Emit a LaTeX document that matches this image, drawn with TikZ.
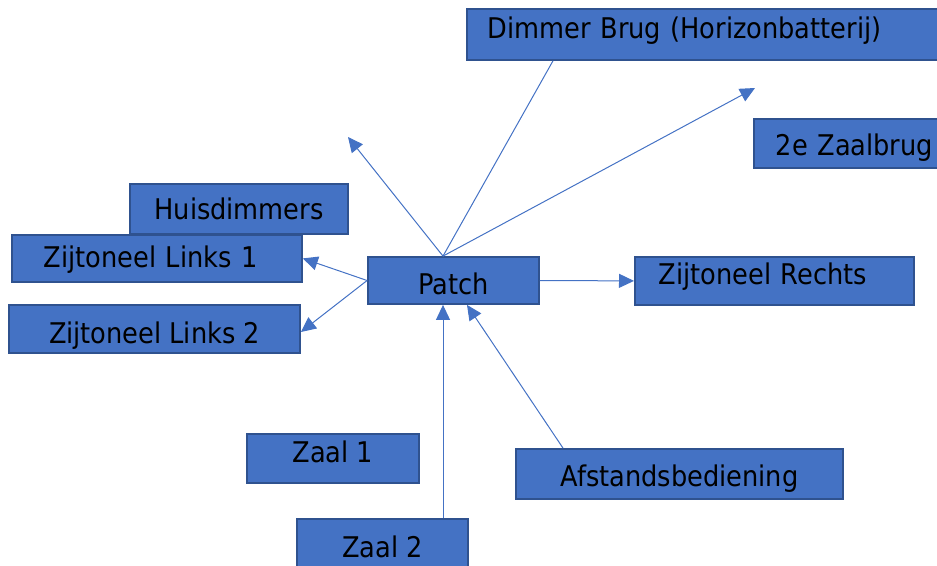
\documentclass[tikz,border=0pt]{standalone}
\usepackage{fontspec}
\setmainfont{DejaVu Sans Condensed}
\usetikzlibrary{arrows.meta}
\definecolor{boxfill}{HTML}{4472C4}
\definecolor{boxline}{HTML}{2F528F}
\tikzstyle{box} = [rectangle, draw=boxline, fill=boxfill, line width=1.8pt, inner sep=0pt, text depth=0pt, text height=20pt, font=\fontsize{28.5pt}{32pt}\selectfont]
\tikzstyle{line} = [draw=boxfill, line width=1pt]
\tikzstyle{arrow} = [line, -{Triangle[length=15pt,width=14pt]}]

\begin{document}
\begin{tikzpicture}[x=1pt, y=-1pt]
    \clip (0,0) rectangle (937,565);
    \node (dimmer)  [box, anchor=north west, minimum height=51pt, inner xsep=21pt, text width=500pt, align=left, text height=9pt] at (466,8)
      {Dimmer Brug (Horizonbatterij)};
    \node (zaalbrug) [box, anchor=north west, minimum height=49pt, inner xsep=22pt, text width=200pt, align=left, text height=24pt] at (753,118)
      {2e Zaalbrug};
    \node (huis)    [box, minimum width=218pt, minimum height=50pt] at (239,209)
      {Huisdimmers\hspace{6pt}};
    \node (links1)  [box, anchor=north west, minimum height=47pt, inner xsep=32pt, text width=226pt, align=left, text height=18pt] at (11,234)
      {Zijtoneel Links 1};
    \node (links2)  [box, minimum width=291pt, minimum height=48pt, text height=28pt] at (154.5,329)
      {Zijtoneel Links 2};
    \node (patch)   [box, minimum width=171pt, minimum height=47pt, text height=27pt] at (453.5,280.5)
      {Patch\hspace{6pt}};
    \node (rechts)  [box, anchor=north west, minimum height=48pt, inner xsep=24pt, text width=231pt, align=left, text height=8pt] at (634,256)
      {Zijtoneel Rechts};
    \node (zaal1)   [box, minimum width=172pt, minimum height=49pt, text height=8pt] at (333,458.5)
      {Zaal 1};
    \node (zaal2)   [box, minimum width=171pt, minimum height=48pt, text height=29pt] at (382.5,543)
      {Zaal 2};
    \node (afstand) [box, minimum width=327pt, minimum height=50pt, text height=25pt] at (679.5,474)
      {Afstandsbediening\hspace{6pt}};

    \coordinate (boven)      at (348,137);
    \coordinate (rechtsboven) at (755,88);

    \draw [arrow] ([xshift=-10.5pt]patch.north) -- (boven);
    \draw [line]  ([xshift=-10.5pt]patch.north) -- ([xshift=87pt]dimmer.south west);
    \draw [arrow] ([xshift=-10.5pt]patch.north) -- (rechtsboven);
    \draw [arrow] (patch.west)  -- (links1.east);
    \draw [arrow] (patch.west)  -- ([yshift=-3pt]links2.east);
    \draw [arrow] (patch.east)  -- (rechts.west);
    \draw [arrow] ([xshift=60.5pt]zaal2.north)    -- ([xshift=-10.5pt]patch.south);
    \draw [arrow] ([xshift=-116.5pt]afstand.north) -- ([xshift=13.5pt]patch.south);
  \end{tikzpicture}
\end{document}
